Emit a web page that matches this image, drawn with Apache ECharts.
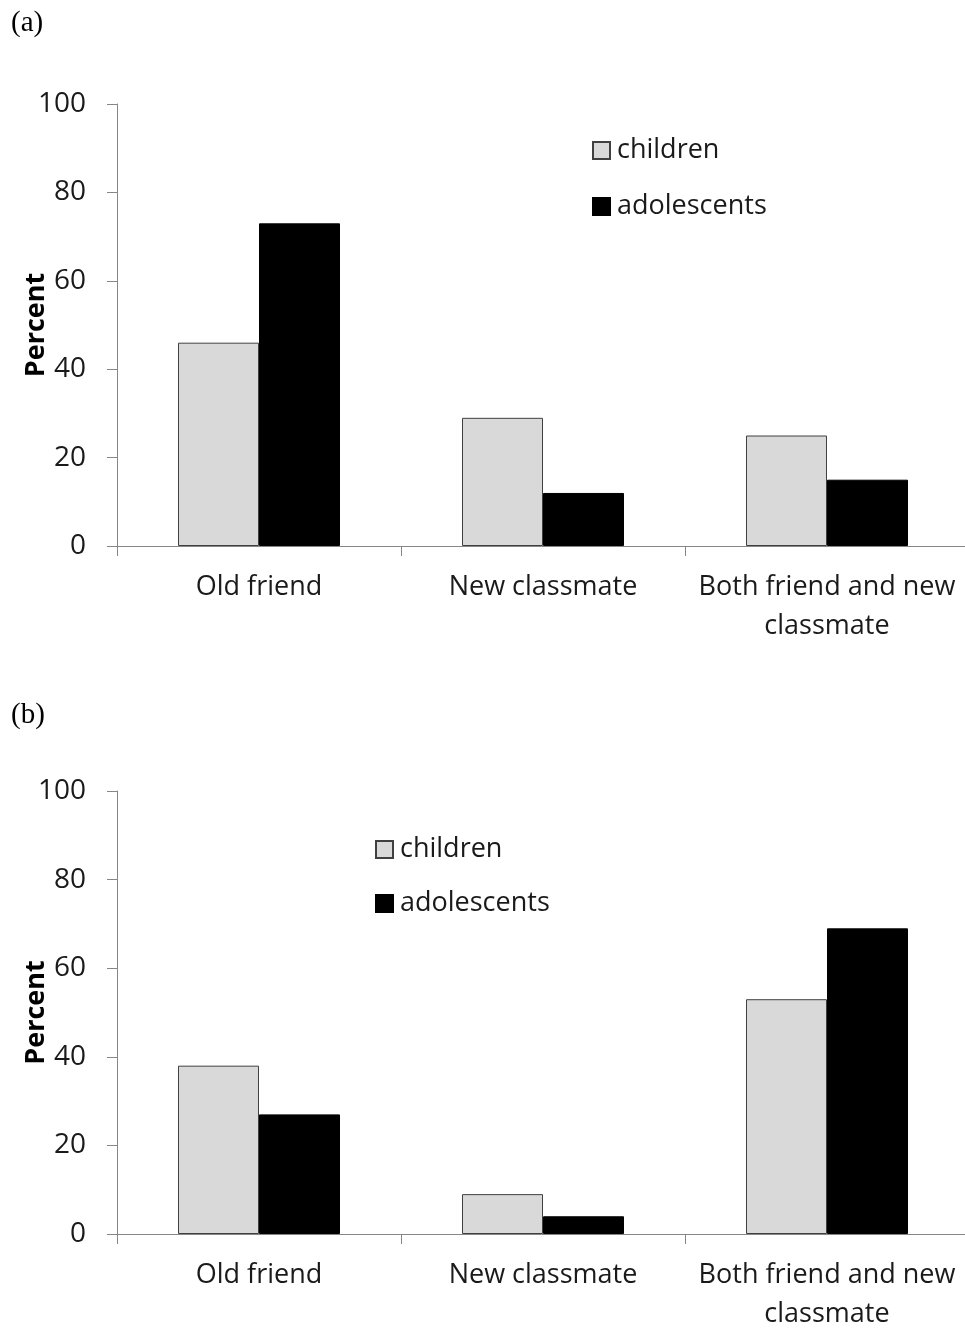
<!DOCTYPE html>
<html>
<head>
<meta charset="utf-8">
<script src="https://cdn.jsdelivr.net/npm/echarts@6/dist/echarts.min.js"></script>
<style>
  html, body { margin: 0; padding: 0; background: #fff; }
  #chart { width: 965px; height: 1331px; }
</style>
</head>
<body>
<div id="chart"></div>
<script>
// categories shared by both panels
var categories = ['Old friend', 'New classmate', 'Both friend and new\nclassmate'];
var yTicks = [0, 20, 40, 60, 80, 100];

// panel (a)
var childrenA = [46, 29, 25];
var adolescentsA = [73, 12, 15];

// panel (b)
var childrenB = [38, 9, 53];
var adolescentsB = [27, 4, 69];

var font = '"Open Sans", "Noto Sans", sans-serif';
var axisGray = '#868686';
var textColor = '#1a1a1a';

function xAxisFor(grid) {
  return {
    type: 'category',
    gridIndex: grid,
    data: categories,
    axisLine: { lineStyle: { color: axisGray, width: 1 } },
    axisTick: { show: true, length: 10, lineStyle: { color: axisGray } },
    axisLabel: {
      color: textColor, fontFamily: font, fontSize: 27,
      margin: 22, lineHeight: 39, interval: 0
    }
  };
}

function yAxisFor(grid) {
  return {
    type: 'value',
    gridIndex: grid,
    min: yTicks[0],
    max: yTicks[yTicks.length - 1],
    interval: 20,
    name: 'Percent',
    nameLocation: 'middle',
    nameRotate: 90,
    nameGap: 67,
    nameMoveOverlap: false,
    nameTextStyle: { color: '#000', fontFamily: font, fontSize: 27, fontWeight: 'bold' },
    axisLine: { show: true, lineStyle: { color: axisGray, width: 1 } },
    axisTick: { show: true, length: 10, lineStyle: { color: axisGray } },
    splitLine: { show: false },
    axisLabel: { color: textColor, fontFamily: font, fontSize: 28, margin: 31 }
  };
}

function barSeries(name, data, axis, fill, border) {
  return {
    name: name,
    type: 'bar',
    xAxisIndex: axis,
    yAxisIndex: axis,
    data: data,
    barWidth: 81,
    barGap: '0%',
    itemStyle: { color: fill, borderColor: border, borderWidth: 1 },
    emphasis: { disabled: true }
  };
}

var option = {
  backgroundColor: '#fff',
  animation: false,
  title: [
    { text: '(a)', left: 6, top: 4, textStyle: { fontFamily: '"Liberation Serif", serif', fontSize: 29, fontWeight: 'normal', color: '#000' } },
    { text: '(b)', left: 6, top: 696, textStyle: { fontFamily: '"Liberation Serif", serif', fontSize: 29, fontWeight: 'normal', color: '#000' } }
  ],
  legend: [
    {
      orient: 'vertical', left: 587, top: 132,
      itemWidth: 17, itemHeight: 17, itemGap: 29,
      icon: 'rect',
      textStyle: { fontFamily: font, fontSize: 27, color: textColor, padding: [0, 0, 0, 2] },
      data: ['children', 'adolescents']
    },
    {
      orient: 'vertical', left: 370, top: 831,
      itemWidth: 17, itemHeight: 17, itemGap: 27,
      icon: 'rect',
      textStyle: { fontFamily: font, fontSize: 27, color: textColor, padding: [0, 0, 0, 2] },
      data: ['children ', 'adolescents ']
    }
  ],
  grid: [
    { left: 117, top: 104, width: 852, height: 442, outerBoundsMode: 'none', containLabel: false },
    { left: 117, top: 791, width: 852, height: 443, outerBoundsMode: 'none', containLabel: false }
  ],
  xAxis: [xAxisFor(0), xAxisFor(1)],
  yAxis: [yAxisFor(0), yAxisFor(1)],
  series: [
    barSeries('children', childrenA, 0, '#d9d9d9', '#404040'),
    barSeries('adolescents', adolescentsA, 0, '#000000', '#000000'),
    barSeries('children ', childrenB, 1, '#d9d9d9', '#404040'),
    barSeries('adolescents ', adolescentsB, 1, '#000000', '#000000')
  ]
};

var chart = echarts.init(document.getElementById('chart'));
chart.setOption(option);
</script>
</body>
</html>
